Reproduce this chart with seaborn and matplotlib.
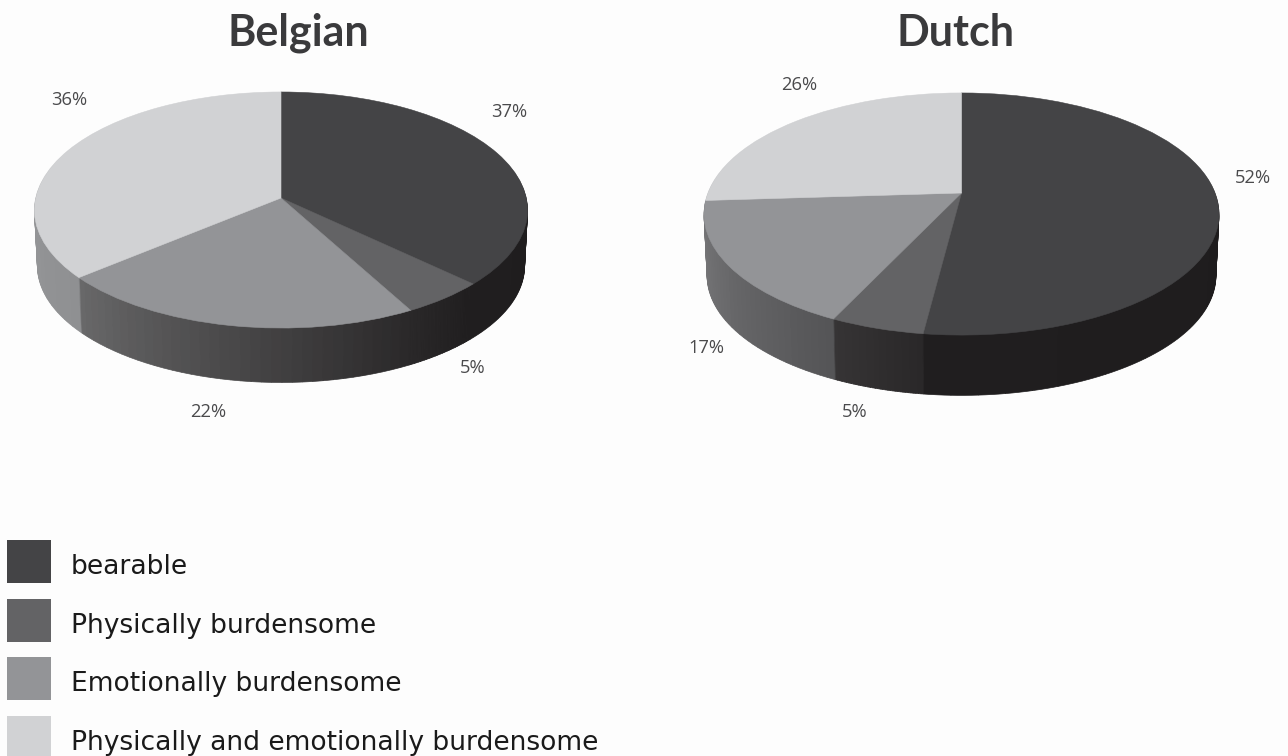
import numpy as np
import matplotlib
matplotlib.use("Agg")
import matplotlib.pyplot as plt
import matplotlib.transforms as mtransforms
from matplotlib.patches import Patch, Rectangle
from matplotlib.legend_handler import HandlerPatch
from matplotlib.colors import to_rgb
import seaborn as sns

categories = ["bearable", "Physically burdensome", "Emotionally burdensome",
              "Physically and emotionally burdensome"]
belgian_values = [37, 5, 22, 36]
dutch_values = [52, 5, 17, 26]

BG = "#fdfdfd"
TOP_COLORS = ["#444446", "#636365", "#939497", "#d1d2d4"]

sns.set_theme(style="white")
palette = sns.color_palette(TOP_COLORS)


class Tilt(mtransforms.Transform):
    input_dims = 2
    output_dims = 2
    is_separable = False
    has_inverse = False

    def __init__(self, cx, cy, a, b, k, drop=0.0, shrink=1.0):
        super().__init__()
        self.p = (cx, cy, a, b, k, drop, shrink)

    def transform_non_affine(self, xy):
        cx, cy, a, b, k, drop, shrink = self.p
        xy = np.asarray(xy)
        w = 1 + k * xy[:, 1]
        return np.column_stack([cx + shrink * b * xy[:, 0] / w,
                                cy + drop - shrink * a * xy[:, 1] / w])


def blend(c0, c1, t):
    c0, c1 = np.array(to_rgb(c0)), np.array(to_rgb(c1))
    return tuple(c0 + (c1 - c0) * t)


def draw_pie(ax, values, geom, depth, side_ramps, n=36):
    sub_values = np.repeat(np.asarray(values, float) / n, n)
    side_colors = [blend(r[0], r[1], i / (n - 1)) for r in side_ramps for i in range(n)]
    for d in range(depth, 0, -1):
        wedges, _ = ax.pie(sub_values, startangle=90, counterclock=False, colors=side_colors,
                           wedgeprops=dict(linewidth=0.5))
        for w, c in zip(wedges, side_colors):
            w.set_edgecolor(c)
            w.set_transform(Tilt(*geom, drop=d, shrink=1 - 0.012 * d / depth) + ax.transData)
    wedges, _ = ax.pie(values, startangle=90, counterclock=False, colors=palette,
                       wedgeprops=dict(linewidth=0.4))
    for w, c in zip(wedges, palette):
        w.set_edgecolor(c)
        w.set_transform(Tilt(*geom) + ax.transData)


fig = plt.figure(figsize=(12.88, 7.56), dpi=100, facecolor=BG)
ax = fig.add_axes([0, 0, 1, 1], facecolor=BG)

belgian_sides = [("#1c1a1b", "#201e1f"), ("#201e1f", "#2a2829"),
                 ("#2b292a", "#686869"), ("#8f9092", "#a4a5a7")]
dutch_sides = [("#1c1a1b", "#201e1f"), ("#2a2829", "#363435"),
               ("#555557", "#7b7b7d"), ("#a0a1a3", "#a4a5a7")]

draw_pie(ax, belgian_values, (281, 198, 116.8, 245.3, 0.1017), 56, belgian_sides)
draw_pie(ax, dutch_values, (961.5, 193, 117.4, 253.6, 0.1736), 62, dutch_sides)

ax.set_aspect("auto")
ax.set_xlim(0, 1288)
ax.set_ylim(756, 0)
ax.axis("off")

title_font = dict(family="Lato", fontweight="bold", fontsize=31, color="#3a3a3c",
                  ha="center", va="center")
ax.text(298, 33, "Belgian", **title_font)
ax.text(956, 33, "Dutch", **title_font)

label_font = dict(family="Open Sans", fontsize=13.2, color="#4a4a4c", ha="center", va="center")
belgian_label_xy = [(509, 112), (473, 368), (208, 412), (69, 100)]
dutch_label_xy = [(1253, 178), (855, 412), (706, 348), (799, 85)]
for v, (x, y) in zip(belgian_values, belgian_label_xy):
    ax.text(x, y, f"{v}%", **label_font)
for v, (x, y) in zip(dutch_values, dutch_label_xy):
    ax.text(x, y, f"{v}%", **label_font)


def legend_square(legend, orig_handle, xdescent, ydescent, width, height, fontsize):
    px = 72 / 100
    return Rectangle((-xdescent, -9 * px), 44 * px, 43 * px)


handles = [Patch(facecolor=c, edgecolor="none", label=l) for c, l in zip(palette, categories)]
fs = 19.1
leg = ax.legend(handles=handles, loc="lower left", bbox_to_anchor=(7 / 1288, 0.5 / 756),
                bbox_transform=fig.transFigure, frameon=False, fontsize=fs, borderpad=0,
                borderaxespad=0, handlelength=1.66, handletextpad=0.75,
                labelspacing=1.22, labelcolor="#1a1a1a",
                handler_map={Patch: HandlerPatch(patch_func=legend_square)})

fig.savefig("out.png", dpi=100, facecolor=BG)
